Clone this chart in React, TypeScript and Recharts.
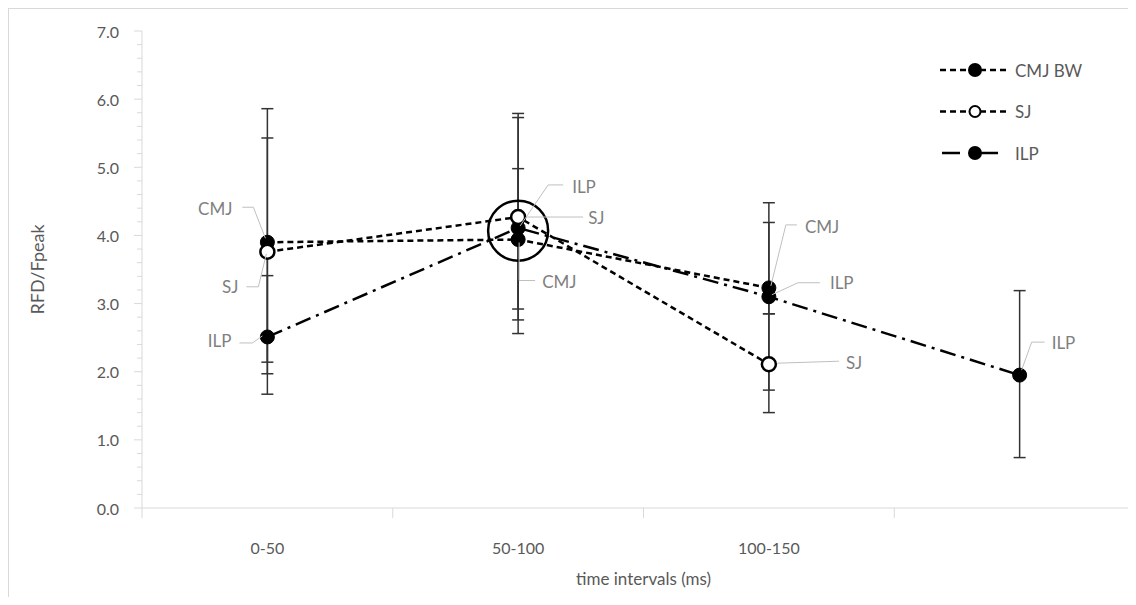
import React from 'react';
import { LineChart, Line, XAxis, YAxis, ErrorBar, ReferenceDot, Legend } from 'recharts';

// categories on the x axis (the fourth interval has no label)
const categories = ['0-50', '50-100', '100-150', ''];

// mean RFD/Fpeak per interval
const cmjBw = [3.9, 3.94, 3.23, null];
const sj = [3.76, 4.27, 2.11, null];
const ilp = [2.51, 4.11, 3.1, 1.95];

// error bars as [below, above]
const cmjErr = [[1.93, 1.96], [1.02, 1.04], [1.5, 1.25], null];
const sjErr = [[1.62, 1.67], [1.51, 1.46], [0.71, 0.74], null];
const ilpErr = [[0.84, 0.9], [1.55, 1.68], [0.25, 1.09], [1.21, 1.24]];

const yTicks = [0, 1, 2, 3, 4, 5, 6, 7];
const yMinorTicks = yTicks.flatMap((t) => (t < 7 ? [t, t + 0.2, t + 0.4, t + 0.6, t + 0.8] : [t]));

// circled point at 50-100
const highlight = { x: '50-100', y: 4.07 };

const data = categories.map((c, i) => ({
  cat: c,
  cmj: cmjBw[i],
  sj: sj[i],
  ilp: ilp[i],
  cmjErr: cmjErr[i],
  sjErr: sjErr[i],
  ilpErr: ilpErr[i],
}));

// data label layout (offsets from the point, leader line points)
const cmjLabels = [
  { dx: -35, dy: -34, anchor: 'end', leader: [[-2, -4], [-14, -35], [-25, -35]] },
  { dx: 24, dy: 42, anchor: 'start', leader: [[1, 3], [1, 41], [17, 41]] },
  { dx: 36, dy: -61, anchor: 'start', leader: [[2, -2], [17, -63], [28, -63]] },
];
const sjLabels = [
  { dx: -29, dy: 35, anchor: 'end', leader: [[-1, 2], [-9, 35], [-21, 35]] },
  { dx: 70, dy: 0, anchor: 'start', leader: [[9, 0], [65, 0]] },
  { dx: 77, dy: -2, anchor: 'start', leader: [[8, -1], [70, -3]] },
];
const ilpLabels = [
  { dx: -36, dy: 4, anchor: 'end', leader: [[-5, -1], [-15, 6], [-28, 6]] },
  { dx: 54, dy: -41, anchor: 'start', leader: [[2, -2], [30, -43], [45, -43]] },
  { dx: 61, dy: -14, anchor: 'start', leader: [[3, -2], [29, -14], [51, -14]] },
  { dx: 32, dy: -33, anchor: 'start', leader: [[2, -5], [12, -33], [25, -33]] },
];

const FONT = 'Lato, "Open Sans", sans-serif';
const AXIS_GRAY = '#d9d9d9';
const TEXT_GRAY = '#595959';

const CHART_W = 1170;
const CHART_H = 600;
const MARGIN = { top: 22, right: 34, bottom: 41, left: 53 };
const Y_AXIS_W = 80;
const BAND = (CHART_W - MARGIN.left - Y_AXIS_W - MARGIN.right) / categories.length;

const makeLabel = (name: string, layout: any[]) => (props: any) => {
  const { x, y, index } = props;
  const cfg = layout[index];
  if (!cfg || x == null || y == null) return null;
  const pts = cfg.leader.map((p: number[]) => `${x + p[0]},${y + p[1]}`).join(' ');
  return (
    <g>
      <polyline points={pts} fill="none" stroke="#bfbfbf" strokeWidth={1} />
      <text
        x={x + cfg.dx}
        y={y + cfg.dy}
        textAnchor={cfg.anchor}
        dominantBaseline="central"
        fill="#7f7f7f"
        fontSize={17}
        fontFamily={FONT}
      >
        {name}
      </text>
    </g>
  );
};

const XTick = ({ x, y, payload }: any) => (
  <g>
    <line x1={x - BAND / 2} x2={x - BAND / 2} y1={y} y2={y + 10} stroke={AXIS_GRAY} />
    <text x={x} y={y + 39} textAnchor="middle" dominantBaseline="central" fill={TEXT_GRAY} fontSize={16} fontFamily={FONT}>
      {payload.value}
    </text>
  </g>
);

const YTick = ({ x, y, payload }: any) => {
  const v = payload.value;
  const major = Math.abs(v - Math.round(v)) < 1e-6;
  return (
    <g>
      <line x1={x - (major ? 8 : 5)} x2={x} y1={y} y2={y} stroke={AXIS_GRAY} />
      {major && (
        <text x={x - 23} y={y} textAnchor="end" dominantBaseline="central" fill={TEXT_GRAY} fontSize={16} fontFamily={FONT}>
          {v.toFixed(1)}
        </text>
      )}
    </g>
  );
};

const LegendBox = () => {
  const rows = [
    { name: 'CMJ BW', dash: '6 4', open: false },
    { name: 'SJ', dash: '6 4', open: true },
    { name: 'ILP', dash: null, open: false },
  ];
  return (
    <svg width={200} height={120}>
      {rows.map((r, i) => {
        const cy = 16 + i * 41.5;
        return (
          <g key={r.name}>
            {r.dash ? (
              <line x1={0} x2={67} y1={cy} y2={cy} stroke="#000" strokeWidth={2.5} strokeDasharray={r.dash} />
            ) : (
              <>
                <line x1={2} x2={20} y1={cy} y2={cy} stroke="#000" strokeWidth={2.5} />
                <line x1={40} x2={58} y1={cy} y2={cy} stroke="#000" strokeWidth={2.5} />
              </>
            )}
            <circle cx={35} cy={cy} r={r.open ? 5.5 : 6} fill={r.open ? '#fff' : '#000'} stroke="#000" strokeWidth={2} />
            <text x={75} y={cy} dominantBaseline="central" fill={TEXT_GRAY} fontSize={17} fontFamily={FONT}>
              {r.name}
            </text>
          </g>
        );
      })}
    </svg>
  );
};

const filledDot = { r: 7, fill: '#000', stroke: '#000', strokeWidth: 1, strokeDasharray: 'none' };
const openDot = { r: 7, fill: '#fff', stroke: '#000', strokeWidth: 2.5, strokeDasharray: 'none' };

export default function App() {
  return (
    <div
      style={{
        width: 1120,
        height: 589,
        overflow: 'hidden',
        position: 'relative',
        borderTop: `1px solid ${AXIS_GRAY}`,
        borderLeft: `1px solid ${AXIS_GRAY}`,
        boxSizing: 'border-box',
        background: '#fff',
        fontFamily: FONT,
      }}
    >
      <LineChart width={CHART_W} height={CHART_H} data={data} margin={MARGIN}>
        <XAxis
          dataKey="cat"
          scale="band"
          interval={0}
          height={60}
          axisLine={{ stroke: AXIS_GRAY }}
          tickLine={false}
          tickSize={0}
          tickMargin={0}
          tick={<XTick />}
          label={{
            content: ({ viewBox }: any) => (
              <text
                x={viewBox.x + viewBox.width / 2}
                y={viewBox.y + 70}
                textAnchor="middle"
                dominantBaseline="central"
                fill={TEXT_GRAY}
                fontSize={17}
                fontFamily={FONT}
              >
                time intervals (ms)
              </text>
            ),
          }}
        />
        <YAxis
          type="number"
          domain={[0, 7]}
          ticks={yMinorTicks}
          interval={0}
          width={Y_AXIS_W}
          axisLine={{ stroke: AXIS_GRAY }}
          tickLine={false}
          tickSize={0}
          tickMargin={0}
          tick={<YTick />}
          label={{
            content: ({ viewBox }: any) => {
              const cx = viewBox.x - 25;
              const cy = viewBox.y + viewBox.height / 2;
              return (
                <text
                  x={cx}
                  y={cy}
                  transform={`rotate(-90 ${cx} ${cy})`}
                  textAnchor="middle"
                  dominantBaseline="central"
                  fill={TEXT_GRAY}
                  fontSize={18}
                  fontFamily={FONT}
                >
                  RFD/Fpeak
                </text>
              );
            },
          }}
        />
        <Legend
          layout="vertical"
          align="center"
          verticalAlign="middle"
          wrapperStyle={{ position: 'absolute', left: 931, top: 45, width: 200 }}
          content={<LegendBox />}
        />
        <Line
          dataKey="ilp"
          stroke="#000"
          strokeWidth={2.5}
          strokeDasharray="16 6 3 6"
          dot={filledDot}
          activeDot={false}
          isAnimationActive={false}
          label={makeLabel('ILP', ilpLabels)}
        >
          <ErrorBar dataKey="ilpErr" width={6} stroke="#333" strokeWidth={1.5} direction="y" isAnimationActive={false} />
        </Line>
        <Line
          dataKey="cmj"
          stroke="#000"
          strokeWidth={2.5}
          strokeDasharray="6 4"
          dot={filledDot}
          activeDot={false}
          isAnimationActive={false}
          label={makeLabel('CMJ', cmjLabels)}
        >
          <ErrorBar dataKey="cmjErr" width={6} stroke="#333" strokeWidth={1.5} direction="y" isAnimationActive={false} />
        </Line>
        <Line
          dataKey="sj"
          stroke="#000"
          strokeWidth={2.5}
          strokeDasharray="6 4"
          dot={openDot}
          activeDot={false}
          isAnimationActive={false}
          label={makeLabel('SJ', sjLabels)}
        >
          <ErrorBar dataKey="sjErr" width={6} stroke="#333" strokeWidth={1.5} direction="y" isAnimationActive={false} />
        </Line>
        <ReferenceDot x={highlight.x} y={highlight.y} r={30} fill="none" stroke="#000" strokeWidth={2.5} ifOverflow="visible" />
      </LineChart>
    </div>
  );
}
